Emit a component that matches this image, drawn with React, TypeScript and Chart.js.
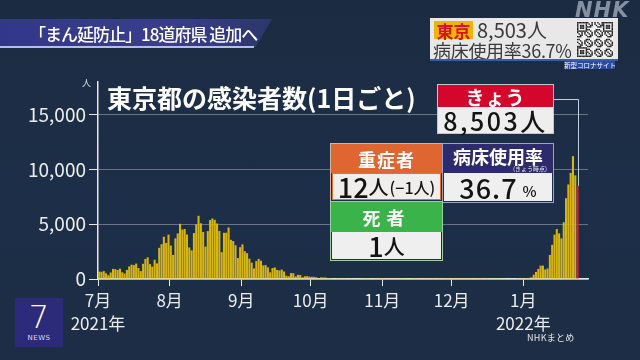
import React, { useEffect, useRef } from "react";
import { Chart, registerables } from "chart.js";

Chart.register(...registerables);

// Daily new cases in Tokyo, 2021-07-01 .. 2022-01-24
const julyCases = [673, 660, 716, 518, 342, 593, 920, 896, 822, 950, 614, 502, 830, 1149, 1308, 1271, 1410, 1008, 727, 1387, 1832, 1979, 1359, 1128, 1763, 1429, 2848, 3177, 3865, 3300, 4058];
const augCases = [3058, 2195, 3709, 4166, 5042, 4515, 4566, 4066, 2884, 2612, 4200, 4989, 5773, 5094, 4295, 2962, 4377, 5386, 5534, 5405, 5074, 4392, 2447, 4220, 4228, 4704, 3581, 3474, 3081, 1915, 2909];
const sepCases = [3168, 2539, 2362, 1853, 1490, 968, 1629, 1834, 1675, 1242, 1273, 1067, 611, 1004, 1052, 831, 782, 862, 685, 302, 253, 537, 531, 235, 382, 362, 154, 248, 267, 218];
const octCases = [200, 196, 161, 87, 149, 144, 138, 82, 82, 60, 49, 77, 72, 62, 66, 66, 40, 29, 36, 41, 36, 26, 32, 19, 17, 29, 36, 21, 20, 21, 22];
const novCases = [9, 18, 29, 17, 26, 26, 18, 19, 16, 32, 24, 33, 30, 18, 8, 21, 21, 27, 24, 18, 22, 6, 19, 12, 10, 19, 23, 12, 8, 13];
const decCases = [14, 22, 15, 15, 17, 12, 12, 21, 20, 22, 18, 16, 6, 22, 19, 17, 23, 31, 24, 21, 26, 36, 27, 37, 44, 34, 41, 46, 76, 64, 78];
const janCases = [79, 84, 103, 151, 390, 641, 922, 1224, 1223, 871, 962, 2198, 3124, 4051, 4561, 4172, 3709, 5185, 7377, 8638, 9699, 11227, 9468, 8503];

const dailyCases = [...julyCases, ...augCases, ...sepCases, ...octCases, ...novCases, ...decCases, ...janCases];

// Axis labels
const monthStarts = [0, 31, 62, 92, 123, 153, 184];
const monthLabels = ["7月", "8月", "9月", "10月", "11月", "12月", "1月"];
const yearLabels: Record<number, string> = { 0: "2021年", 6: "2022年" };
const yTickValues = [0, 5000, 10000, 15000];
const yMax = 18000;
const xMax = 212;

// Headline figures
const todayCases = 8503;
const severeCases = 12;
const severeChange = -1;
const deaths = 1;
const bedRate = 36.7;

const FONT = '"Noto Sans CJK JP", "Noto Sans", sans-serif';
const BAR_COLOR = "#d6b514";
const TODAY_COLOR = "#d81e2a";

// Callout anchor (right edge of the "きょう" box)
const CALLOUT_X = 553;
const CALLOUT_Y = 99.5;

const fmt = (n: number) => n.toLocaleString("en-US");

const connector = {
  id: "todayConnector",
  afterDatasetsDraw(chart: any) {
    const { ctx, scales } = chart;
    const px = Math.round(scales.x.getPixelForValue(dailyCases.length - 0.5)) + 0.5;
    const py = scales.y.getPixelForValue(todayCases);
    ctx.save();
    ctx.strokeStyle = "#c9ced6";
    ctx.lineWidth = 1;
    ctx.beginPath();
    ctx.moveTo(CALLOUT_X, CALLOUT_Y);
    ctx.lineTo(px, CALLOUT_Y);
    ctx.lineTo(px, py);
    ctx.stroke();
    ctx.restore();
  },
};

function QrMark() {
  const n = 25;
  const cells: JSX.Element[] = [];
  const finder = (r: number, c: number) => {
    const inBox = (r0: number, c0: number) => r >= r0 && r < r0 + 7 && c >= c0 && c < c0 + 7;
    const corners = [[0, 0], [0, n - 7], [n - 7, 0]];
    for (const [r0, c0] of corners) {
      if (inBox(r0, c0)) {
        const rr = r - r0, cc = c - c0;
        const ring = rr === 0 || rr === 6 || cc === 0 || cc === 6;
        const core = rr >= 2 && rr <= 4 && cc >= 2 && cc <= 4;
        return ring || core ? 1 : 0;
      }
    }
    return -1;
  };
  for (let r = 0; r < n; r++) {
    for (let c = 0; c < n; c++) {
      let f = finder(r, c);
      if (f === -1) f = ((r * 31 + c * 17 + r * c) % 7) < 3 ? 1 : 0;
      if (f) cells.push(<rect key={r * n + c} x={c} y={r} width={1.02} height={1.02} fill="#222" />);
    }
  }
  return (
    <svg width={36} height={35} viewBox={`0 0 ${n} ${n}`} preserveAspectRatio="none" style={{ display: "block" }}>
      <rect x={0} y={0} width={n} height={n} fill="#f4f4f4" />
      {cells}
    </svg>
  );
}

const abs = (s: React.CSSProperties): React.CSSProperties => ({ position: "absolute", ...s });

export default function App() {
  const canvasRef = useRef<HTMLCanvasElement>(null);

  useEffect(() => {
    if (!canvasRef.current) return;
    const points = dailyCases.map((v, i) => ({ x: i + 0.5, y: v }));
    const colors = dailyCases.map((_, i) => (i === dailyCases.length - 1 ? TODAY_COLOR : BAR_COLOR));
    const chart = new Chart(canvasRef.current, {
      type: "bar",
      data: {
        datasets: [
          {
            data: points as any,
            backgroundColor: colors,
            borderWidth: 0,
            barPercentage: 0.9,
            categoryPercentage: 1,
          },
        ],
      },
      options: {
        animation: false,
        responsive: false,
        maintainAspectRatio: false,
        layout: { padding: { left: 0, right: 52, top: 82, bottom: 0 } },
        plugins: { legend: { display: false }, tooltip: { enabled: false } },
        scales: {
          x: {
            type: "linear",
            min: 0,
            max: xMax,
            offset: false,
            grid: {
              display: true,
              drawOnChartArea: false,
              drawTicks: true,
              tickLength: 7,
              tickColor: "#e8e8e8",
              offset: false,
            },
            border: { display: true, color: "#e8e8e8", width: 1.5 },
            afterBuildTicks: (s: any) => {
              s.ticks = monthStarts.map((v) => ({ value: v }));
            },
            ticks: {
              autoSkip: false,
              maxRotation: 0,
              padding: 3,
              color: "#ececec",
              font: { family: FONT, size: 17, lineHeight: 1.35 },
              callback: (_v: any, i: number) =>
                yearLabels[i] ? [monthLabels[i], yearLabels[i]] : monthLabels[i],
            },
            afterFit: (s: any) => {
              s.height = 81;
            },
          } as any,
          y: {
            min: 0,
            max: yMax,
            afterBuildTicks: (s: any) => {
              s.ticks = yTickValues.map((v) => ({ value: v }));
            },
            grid: {
              color: "rgba(165,174,188,0.55)",
              lineWidth: 1,
              drawTicks: true,
              tickLength: 9,
              tickColor: "#e8e8e8",
            },
            border: { display: true, color: "#e8e8e8", width: 1.5 },
            ticks: {
              padding: 3,
              color: "#ececec",
              font: { family: FONT, size: 19 },
              callback: (v: any) => fmt(Number(v)),
            },
            afterFit: (s: any) => {
              s.width = 98;
            },
          } as any,
        },
      },
      plugins: [connector],
    });
    return () => chart.destroy();
  }, []);

  const boxText: React.CSSProperties = {
    display: "flex",
    alignItems: "center",
    justifyContent: "center",
    fontFamily: FONT,
    lineHeight: 1,
    whiteSpace: "nowrap",
  };

  return (
    <div
      style={{
        position: "fixed",
        left: 0,
        top: 0,
        width: 640,
        height: 360,
        overflow: "hidden",
        background: "linear-gradient(180deg, #1b2b42 0%, #1d2f48 55%, #1c2d45 100%)",
        fontFamily: FONT,
      }}
    >
      <canvas ref={canvasRef} width={640} height={360} style={{ position: "absolute", left: 0, top: 0, display: "block" }} />

      {/* headline bar */}
      <div
        style={abs({
          left: 0,
          top: 19,
          width: 272,
          height: 28,
          background: "linear-gradient(90deg, #33378a 0%, #393e8c 65%, rgba(60,64,140,0.55) 100%)",
          clipPath: "polygon(0 0, 100% 0, 94% 100%, 0 100%)",
        })}
      />
      <div style={abs({ left: 0, top: 46, width: 254, height: 2, background: "#b9bde6" })} />
      <div style={abs({ left: 29, top: 19, height: 28, ...boxText, justifyContent: "flex-start", color: "#fff", fontSize: 17, fontWeight: 500, letterSpacing: -1 })}>
        「まん延防止」18道府県 追加へ
      </div>

      {/* NHK mark */}
      <div style={abs({ left: 575, top: 0, color: "rgba(205,214,228,0.6)", fontFamily: '"DejaVu Sans", sans-serif', fontWeight: 700, fontStyle: "italic", fontSize: 21, lineHeight: "20px", letterSpacing: 1 })}>
        NHK
      </div>

      {/* top-right summary */}
      <div style={abs({ left: 430, top: 18, width: 188, height: 42, background: "#e8e8e8" })}>
        <div style={abs({ left: 4, top: 3, width: 39, height: 18, background: "#f2b400", ...boxText, color: "#d2141e", fontSize: 17, fontWeight: 700 })}>東京</div>
        <div style={abs({ left: 47, top: 2, height: 20, ...boxText, color: "#3a3a3a", fontSize: 20 })}>{fmt(todayCases)}人</div>
        <div style={abs({ left: 3, top: 22, height: 19, ...boxText, color: "#3a3a3a", fontSize: 18, letterSpacing: -0.3 })}>病床使用率{bedRate}%</div>
        <div style={abs({ left: 147, top: 4 })}>
          <QrMark />
        </div>
      </div>
      <div style={abs({ left: 430, top: 59, width: 188, height: 2, background: "#3b5bb0" })} />
      <div style={abs({ left: 565, top: 61, width: 50, height: 8, background: "#2a4a9a", ...boxText, color: "#fff", fontSize: 6.5 })}>新型コロナサイト</div>

      {/* chart title and unit */}
      <div style={abs({ left: 107, top: 81, height: 32, ...boxText, color: "#fff", fontSize: 25, fontWeight: 700 })}>
        東京都の感染者数(1日ごと)
      </div>
      <div style={abs({ left: 82, top: 78, color: "#e0e0e0", fontSize: 9, lineHeight: "10px" })}>人</div>

      {/* today callout */}
      <div style={abs({ left: 438, top: 85, width: 115, height: 48, outline: "1px solid #c3c7cc" })}>
        <div style={abs({ left: 0, top: 0, width: 115, height: 22, background: "#d4062c", ...boxText, color: "#fff", fontSize: 19, fontWeight: 700, letterSpacing: 1 })}>きょう</div>
        <div style={abs({ left: 0, top: 22, width: 115, height: 26, background: "#eeeeee", ...boxText, color: "#141414", fontSize: 25, fontWeight: 500, letterSpacing: 2.5 })}>{fmt(todayCases)}人</div>
      </div>

      {/* severe / bed occupancy / deaths */}
      <div style={abs({ left: 331, top: 144, width: 111, height: 57, outline: "1px solid #c9b9a8" })}>
        <div style={abs({ left: 0, top: 0, width: 111, height: 29, background: "#df6531", ...boxText, color: "#fff", fontSize: 18, fontWeight: 700, letterSpacing: 1 })}>重症者</div>
        <div style={abs({ left: 1, top: 29, width: 109, height: 27, background: "#f0eeec", boxSizing: "border-box", border: "1px solid #e07040", ...boxText, color: "#141414", fontWeight: 500 })}>
          <span style={{ fontSize: 27 }}>{severeCases}</span>
          <span style={{ fontSize: 20 }}>人</span>
          <span style={{ fontSize: 16, marginLeft: 1 }}>(−{Math.abs(severeChange)}人)</span>
        </div>
      </div>
      <div style={abs({ left: 443, top: 144, width: 110, height: 58, outline: "1px solid #9da3c6" })}>
        <div style={abs({ left: 0, top: 0, width: 110, height: 29, background: "#2d2b6c", ...boxText, color: "#fff", fontSize: 18, fontWeight: 700, paddingBottom: 5, boxSizing: "border-box" })}>病床使用率</div>
        <div style={abs({ left: 70, top: 21, color: "#e8e8f0", fontSize: 6, lineHeight: "7px" })}>(きょう時点)</div>
        <div style={abs({ left: 1, top: 29, width: 108, height: 28, background: "#efefef", ...boxText, color: "#141414", fontWeight: 500 })}>
          <span style={{ fontSize: 27, letterSpacing: 1 }}>{bedRate}</span>
          <span style={{ fontSize: 15, marginLeft: 5, marginTop: 6 }}>%</span>
        </div>
      </div>
      <div style={abs({ left: 331, top: 202, width: 111, height: 58, outline: "1px solid #9fcfa3" })}>
        <div style={abs({ left: 0, top: 0, width: 111, height: 30, background: "#3bb34b", ...boxText, color: "#fff", fontSize: 18, fontWeight: 700, letterSpacing: 6 })}>死者</div>
        <div style={abs({ left: 1, top: 30, width: 109, height: 27, background: "#efefef", ...boxText, color: "#141414", fontWeight: 500 })}>
          <span style={{ fontSize: 27 }}>{deaths}</span>
          <span style={{ fontSize: 21 }}>人</span>
        </div>
      </div>

      {/* source note */}
      <div style={abs({ left: 527, top: 333, color: "#e6e6e6", fontSize: 9, lineHeight: "10px", letterSpacing: 0.3 })}>NHKまとめ</div>

      {/* programme logo */}
      <div style={abs({ left: 15, top: 298, width: 48, height: 49, background: "#2c2a7a" })}>
        <div style={abs({ left: 0, top: 5, width: 48, height: 28, ...boxText, color: "#fff", fontSize: 32, fontWeight: 300, fontFamily: '"DejaVu Sans", sans-serif' })}>7</div>
        <div style={abs({ left: 0, top: 36, width: 48, height: 8, ...boxText, color: "#dcdcf0", fontSize: 7, letterSpacing: 0.5, fontFamily: '"DejaVu Sans", sans-serif' })}>NEWS</div>
      </div>
    </div>
  );
}
